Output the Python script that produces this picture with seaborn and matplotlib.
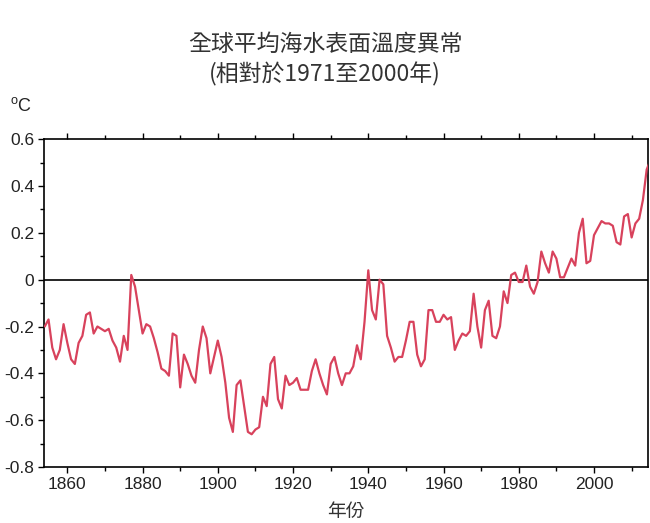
import numpy as np
import pandas as pd
import matplotlib
matplotlib.use("Agg")
import matplotlib.pyplot as plt
from matplotlib.ticker import MultipleLocator
import seaborn as sns

# Annual global mean sea surface temperature anomaly (deg C, relative to 1971-2000)
years = list(range(1854, 2016))
anomaly = [
    -0.20, -0.17, -0.29, -0.34, -0.30, -0.19,                      # 1854-1859
    -0.27, -0.34, -0.36, -0.27, -0.24, -0.15, -0.14, -0.23, -0.20, -0.21,  # 1860s
    -0.22, -0.21, -0.26, -0.29, -0.35, -0.24, -0.30, 0.02, -0.03, -0.13,   # 1870s
    -0.23, -0.19, -0.20, -0.25, -0.31, -0.38, -0.39, -0.41, -0.23, -0.24,  # 1880s
    -0.46, -0.32, -0.36, -0.41, -0.44, -0.30, -0.20, -0.25, -0.40, -0.33,  # 1890s
    -0.26, -0.33, -0.44, -0.59, -0.65, -0.45, -0.43, -0.54, -0.65, -0.66,  # 1900s
    -0.64, -0.63, -0.50, -0.54, -0.36, -0.33, -0.51, -0.55, -0.41, -0.45,  # 1910s
    -0.44, -0.42, -0.47, -0.47, -0.47, -0.39, -0.34, -0.40, -0.45, -0.49,  # 1920s
    -0.36, -0.33, -0.40, -0.45, -0.40, -0.40, -0.37, -0.28, -0.34, -0.18,  # 1930s
    0.04, -0.13, -0.17, 0.00, -0.02, -0.24, -0.29, -0.35, -0.33, -0.33,    # 1940s
    -0.26, -0.18, -0.18, -0.32, -0.37, -0.34, -0.13, -0.13, -0.18, -0.18,  # 1950s
    -0.15, -0.17, -0.16, -0.30, -0.26, -0.23, -0.24, -0.22, -0.06, -0.20,  # 1960s
    -0.29, -0.13, -0.09, -0.24, -0.25, -0.20, -0.05, -0.10, 0.02, 0.03,    # 1970s
    -0.01, -0.01, 0.06, -0.03, -0.06, -0.01, 0.12, 0.07, 0.03, 0.12,       # 1980s
    0.09, 0.01, 0.01, 0.05, 0.09, 0.06, 0.20, 0.26, 0.07, 0.08,            # 1990s
    0.19, 0.22, 0.25, 0.24, 0.24, 0.23, 0.16, 0.15, 0.27, 0.28,            # 2000s
    0.18, 0.24, 0.26, 0.34, 0.47, 0.51,                                    # 2010-2015
]

x_ticks = [1860, 1880, 1900, 1920, 1940, 1960, 1980, 2000]
y_ticks = [0.6, 0.4, 0.2, 0.0, -0.2, -0.4, -0.6, -0.8]
y_tick_labels = ["0.6", "0.4", "0.2", "0", "-0.2", "-0.4", "-0.6", "-0.8"]

title_text = "全球平均海水表面溫度異常\n(相對於1971至2000年)"
x_label = "年份"
unit_label = r"$^{\mathrm{o}}$C"

df = pd.DataFrame({"year": years, "anomaly": anomaly})

sns.set_style("ticks")
plt.rcParams["font.family"] = ["Liberation Sans", "Noto Sans CJK TC", "DejaVu Sans"]
plt.rcParams["mathtext.fontset"] = "custom"
plt.rcParams["mathtext.rm"] = "Liberation Sans"

fig = plt.figure(figsize=(6.5, 5.23), dpi=100)
ax = fig.add_axes([0.0677, 0.107, 0.9295, 0.627])

sns.lineplot(data=df, x="year", y="anomaly", ax=ax, color="#d8425c",
             linewidth=1.6, zorder=3)
ax.axhline(0, color="black", linewidth=1.2, zorder=2)

ax.set_xlim(1853.8, 2014.4)
ax.set_ylim(-0.8, 0.6)
ax.set_xticks(x_ticks)
ax.set_xticklabels([str(v) for v in x_ticks])
ax.xaxis.set_minor_locator(MultipleLocator(10))
ax.set_yticks(y_ticks)
ax.set_yticklabels(y_tick_labels)
ax.yaxis.set_minor_locator(MultipleLocator(0.1))

ax.tick_params(axis="both", which="major", direction="out", length=4, width=1,
               labelsize=12.5, colors="black", labelcolor="#222222", pad=3)
ax.tick_params(axis="both", which="minor", direction="out", length=3, width=1,
               colors="black")
ax.tick_params(axis="x", which="both", top=True)

for side in ["left", "right", "top", "bottom"]:
    ax.spines[side].set_visible(True)
    ax.spines[side].set_color("black")
    ax.spines[side].set_linewidth(1.2)

ax.set_xlabel(x_label, fontsize=13.5, color="#333333", labelpad=7,
              fontweight="light", family=["Noto Sans CJK TC", "DejaVu Sans"])
ax.set_ylabel("")

fig.text(0.5, 0.886, title_text, ha="center", va="center", fontsize=16.5,
         color="#333333", linespacing=1.3, fontweight="light",
         family=["Noto Sans CJK TC", "DejaVu Sans"])
fig.text(0.016, 0.797, unit_label, ha="left", va="center", fontsize=13,
         color="#222222")

fig.savefig("out.png", dpi=100, facecolor="white")
